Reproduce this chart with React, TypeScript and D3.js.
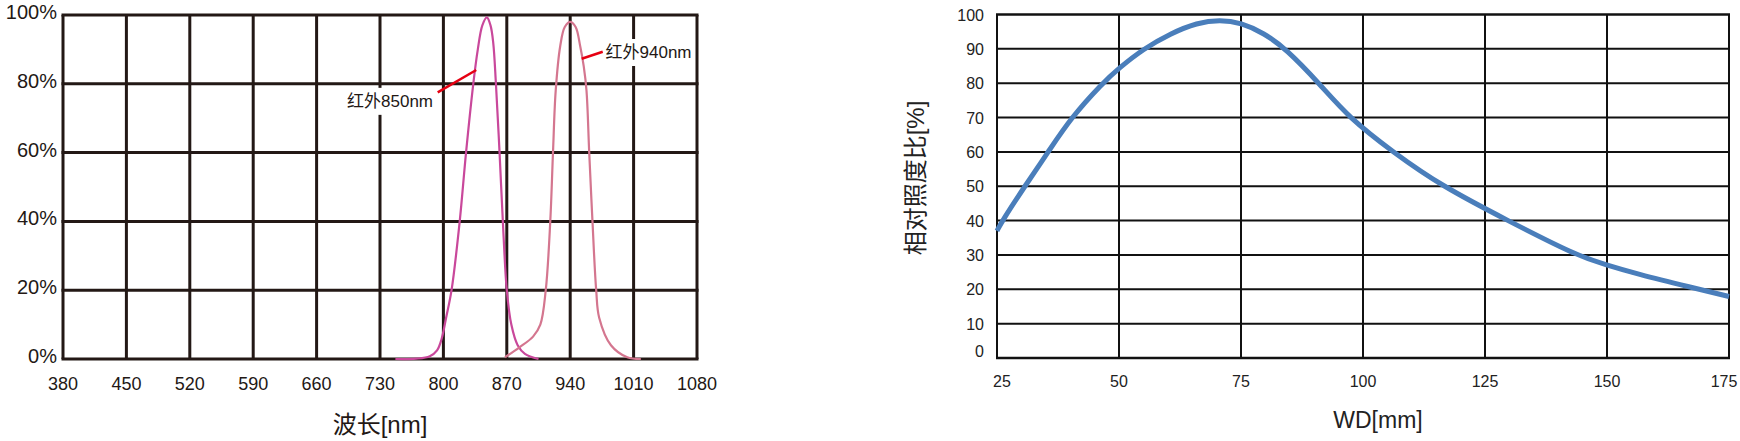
import * as d3 from 'd3';
import { useEffect, useRef } from 'react';

// ---- left chart: spectrum ----
const waveTicks = [380, 450, 520, 590, 660, 730, 800, 870, 940, 1010, 1080];
const pctTicks = [0, 20, 40, 60, 80, 100];

const ir850: [number, number][] = [
  [747, 0], [770, 0.1], [785, 0.8], [793, 2.5], [798, 5.8], [803, 12], [809, 20],
  [818, 40], [825, 60], [833, 80], [838, 90], [843, 97], [848, 99.3], [852, 97],
  [855, 92], [858, 80], [862, 60], [866, 38], [870, 20], [875, 10], [882, 4],
  [890, 1.5], [905, 0],
];
const ir940: [number, number][] = [
  [868, 0.5], [884, 3.4], [899, 6.5], [907, 10], [913, 20], [918, 40], [921, 60],
  [924, 78], [929, 91], [934, 96.5], [940, 98], [946, 96.5], [951, 91], [955, 85],
  [958, 78], [961, 60], [964.6, 40], [968.7, 20], [972, 12], [985, 4], [1003, 0.5],
  [1018, 0],
];

// annotation: label anchor [x, y] and pointer [x1, y1, x2, y2] in data units
const label850 = { text: '红外850nm', at: [693.6, 73.3], ptr: [793.7, 77.5, 836.3, 84] };
const label940 = { text: '红外940nm', at: [979, 87.5], ptr: [952.7, 87.3, 975.9, 89.3] };

// ---- right chart: relative illuminance vs WD ----
const wdTicks = [25, 50, 75, 100, 125, 150, 175];
const illumTicks = [0, 10, 20, 30, 40, 50, 60, 70, 80, 90, 100];
const illum: [number, number][] = [
  [25, 37], [26.1, 40], [30.7, 50], [35.5, 60], [40.2, 70], [46.6, 80], [50, 84.4],
  [55, 90], [60.6, 94.5], [66, 97.6], [70.7, 98.5], [75, 97.6], [79.7, 94.6],
  [84.2, 90], [91, 80], [97.1, 70], [106.1, 60], [116.2, 50], [129.7, 40],
  [143.5, 30], [150, 27], [156, 24.5], [167.4, 20.5], [175, 17.9],
];

const FONT = '"Liberation Sans", Arial, "Noto Sans CJK SC", sans-serif';

export default function App() {
  const svgRef = useRef<SVGSVGElement>(null);

  useEffect(() => {
    if (!svgRef.current) return;
    const svg = d3.select(svgRef.current);
    svg.selectAll('*').remove();

    // ===== left chart =====
    const x1 = d3.scaleLinear().domain([380, 1080]).range([63, 697]);
    const y1 = d3.scaleLinear().domain([0, 100]).range([359, 15]);
    const gridL = '#231815';

    const left = svg.append('g');
    left
      .selectAll('line.v')
      .data(waveTicks)
      .enter()
      .append('line')
      .attr('x1', (d) => x1(d))
      .attr('x2', (d) => x1(d))
      .attr('y1', y1(0))
      .attr('y2', y1(100))
      .attr('stroke', gridL)
      .attr('stroke-width', 3);
    left
      .selectAll('line.h')
      .data(pctTicks)
      .enter()
      .append('line')
      .attr('x1', x1(380) - 1.5)
      .attr('x2', x1(1080) + 1.5)
      .attr('y1', (d) => y1(d))
      .attr('y2', (d) => y1(d))
      .attr('stroke', gridL)
      .attr('stroke-width', 3);

    left
      .selectAll('text.yt')
      .data(pctTicks)
      .enter()
      .append('text')
      .attr('x', 57)
      .attr('y', (d) => y1(d) + 4)
      .attr('text-anchor', 'end')
      .style('font-size', '20px')
      .style('font-family', FONT)
      .attr('fill', gridL)
      .text((d) => `${d}%`);

    left
      .selectAll('text.xt')
      .data(waveTicks)
      .enter()
      .append('text')
      .attr('x', (d) => x1(d))
      .attr('y', 390)
      .attr('text-anchor', 'middle')
      .style('font-size', '18px')
      .style('font-family', FONT)
      .attr('fill', gridL)
      .text((d) => d);

    left
      .append('text')
      .attr('x', (x1(380) + x1(1080)) / 2)
      .attr('y', 433)
      .attr('text-anchor', 'middle')
      .style('font-size', '24px')
      .style('font-family', FONT)
      .attr('fill', gridL)
      .text('波长[nm]');

    const line1 = d3
      .line<[number, number]>()
      .x((d) => x1(d[0]))
      .y((d) => y1(d[1]))
      .curve(d3.curveCatmullRom.alpha(0.5));

    left
      .append('path')
      .datum(ir850)
      .attr('fill', 'none')
      .attr('stroke', '#c9489b')
      .attr('stroke-width', 2.2)
      .attr('d', line1);
    left
      .append('path')
      .datum(ir940)
      .attr('fill', 'none')
      .attr('stroke', '#d4768f')
      .attr('stroke-width', 2.2)
      .attr('d', line1);

    // labels with white backing (breaks the vertical grid line)
    [label850, label940].forEach((lb) => {
      const tx = x1(lb.at[0]);
      const ty = y1(lb.at[1]);
      const t = left
        .append('text')
        .attr('x', tx)
        .attr('y', ty)
        .style('font-size', '17px')
        .style('font-family', FONT)
        .attr('fill', gridL)
        .text(lb.text);
      const w = (t.node() as SVGTextElement).getComputedTextLength();
      left
        .insert('rect', () => t.node() as any)
        .attr('x', tx - 1)
        .attr('y', ty - 19)
        .attr('width', w + 2)
        .attr('height', 27)
        .attr('fill', '#fff');
      left
        .append('line')
        .attr('x1', x1(lb.ptr[0]))
        .attr('y1', y1(lb.ptr[1]))
        .attr('x2', x1(lb.ptr[2]))
        .attr('y2', y1(lb.ptr[3]))
        .attr('stroke', '#e60012')
        .attr('stroke-width', 2.5);
    });

    // ===== right chart =====
    const x2 = d3.scaleLinear().domain([25, 175]).range([997, 1729]);
    const y2 = d3.scaleLinear().domain([0, 100]).range([358, 14.5]);
    const gridR = '#111';
    const right = svg.append('g');

    right
      .selectAll('line.v')
      .data(wdTicks)
      .enter()
      .append('line')
      .attr('x1', (d) => x2(d))
      .attr('x2', (d) => x2(d))
      .attr('y1', y2(0))
      .attr('y2', y2(100))
      .attr('stroke', gridR)
      .attr('stroke-width', 2);
    right
      .selectAll('line.h')
      .data(illumTicks)
      .enter()
      .append('line')
      .attr('x1', x2(25) - 1)
      .attr('x2', x2(175) + 1)
      .attr('y1', (d) => y2(d))
      .attr('y2', (d) => y2(d))
      .attr('stroke', gridR)
      .attr('stroke-width', (d) => (d === 0 || d === 100 ? 2.5 : 2));

    right
      .selectAll('text.yt')
      .data(illumTicks)
      .enter()
      .append('text')
      .attr('x', 984)
      .attr('y', (d) => y2(d) + (d === 0 ? -1 : 6))
      .attr('text-anchor', 'end')
      .style('font-size', '16px')
      .style('font-family', FONT)
      .attr('fill', '#222')
      .text((d) => d);

    right
      .selectAll('text.xt')
      .data(wdTicks)
      .enter()
      .append('text')
      .attr('x', (d, i) => (i === 0 ? x2(d) + 5 : i === wdTicks.length - 1 ? x2(d) - 5 : x2(d)))
      .attr('y', 387)
      .attr('text-anchor', 'middle')
      .style('font-size', '16px')
      .style('font-family', FONT)
      .attr('fill', '#222')
      .text((d) => d);

    right
      .append('text')
      .attr('x', 1378)
      .attr('y', 428)
      .attr('text-anchor', 'middle')
      .style('font-size', '23px')
      .style('font-family', FONT)
      .attr('fill', '#222')
      .text('WD[mm]');

    right
      .append('text')
      .attr('transform', `translate(924,178) rotate(-90)`)
      .attr('text-anchor', 'middle')
      .style('font-size', '24px')
      .style('font-family', FONT)
      .attr('fill', '#222')
      .text('相对照度比[%]');

    const line2 = d3
      .line<[number, number]>()
      .x((d) => x2(d[0]))
      .y((d) => y2(d[1]))
      .curve(d3.curveBasis);

    right
      .append('path')
      .datum(illum)
      .attr('fill', 'none')
      .attr('stroke', '#4a7ebb')
      .attr('stroke-width', 5)
      .attr('stroke-linecap', 'butt')
      .attr('d', line2);
  }, []);

  return (
    <svg
      ref={svgRef}
      width={1740}
      height={441}
      style={{ position: 'absolute', left: 0, top: 0, background: '#fff' }}
    />
  );
}
